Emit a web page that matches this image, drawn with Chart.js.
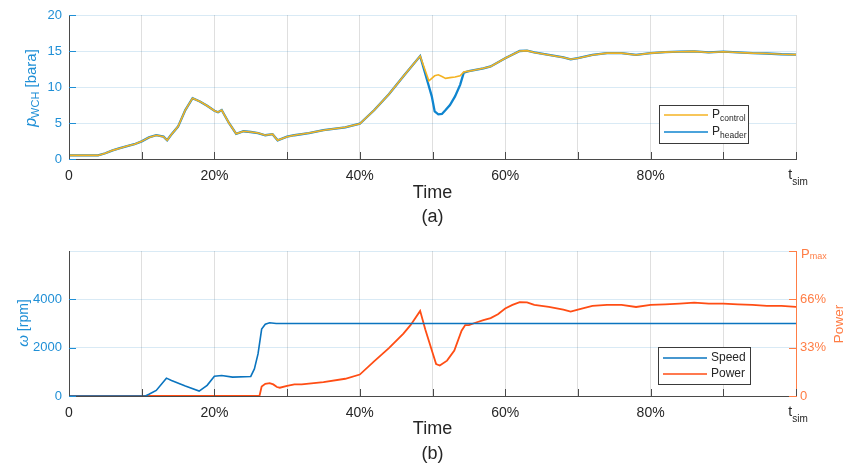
<!DOCTYPE html>
<html>
<head>
<meta charset="utf-8">
<script src="https://cdn.jsdelivr.net/npm/chart.js@4"></script>
<style>
html, body { margin: 0; padding: 0; background: #fff; }
#wrap { position: relative; width: 846px; height: 470px; }
canvas { position: absolute; left: 0; }
#topChart { top: 0; }
#bottomChart { top: 235px; }
</style>
</head>
<body>
<div id="wrap">
  <canvas id="topChart" width="846" height="235"></canvas>
  <canvas id="bottomChart" width="846" height="235"></canvas>
</div>
<script>
// --- Data (time in % of t_sim) ---
const timeTop = [0, 2, 4, 5, 6, 7, 8, 9, 10, 11, 12, 13, 13.5, 14, 15, 16, 17, 18, 19, 20, 20.5, 21, 22, 23, 24, 25, 26, 27, 28, 28.7, 30, 31, 33, 35, 38, 40, 42, 44, 46, 48.3, 49.5, 49.9, 50.3, 50.8, 51.3, 51.8, 52.4, 53.1, 53.8, 54.3, 55, 57, 58, 60, 62, 63, 64, 66, 68, 69, 70, 72, 74, 76, 78, 80, 82, 84, 86, 88, 90, 92, 94, 96, 98, 100];
const pHeader = [0.5, 0.5, 0.5, 0.8, 1.2, 1.5, 1.8, 2.05, 2.45, 3.0, 3.3, 3.1, 2.6, 3.3, 4.5, 6.8, 8.45, 8.0, 7.4, 6.7, 6.5, 6.8, 5.0, 3.5, 3.85, 3.75, 3.6, 3.3, 3.45, 2.6, 3.1, 3.3, 3.6, 4.0, 4.4, 4.9, 6.8, 9.0, 11.5, 14.3, 10.1, 8.7, 6.6, 6.2, 6.25, 6.8, 7.5, 8.7, 10.3, 12.0, 12.2, 12.6, 12.85, 14.0, 15.0, 15.05, 14.8, 14.45, 14.1, 13.85, 14.0, 14.45, 14.7, 14.7, 14.45, 14.7, 14.85, 14.9, 14.95, 14.8, 14.9, 14.8, 14.7, 14.65, 14.55, 14.5];
const pControl = [0.5, 0.5, 0.5, 0.8, 1.2, 1.5, 1.8, 2.05, 2.45, 3.0, 3.3, 3.1, 2.6, 3.3, 4.5, 6.8, 8.45, 8.0, 7.4, 6.7, 6.5, 6.8, 5.0, 3.5, 3.85, 3.75, 3.6, 3.3, 3.45, 2.6, 3.1, 3.3, 3.6, 4.0, 4.4, 4.9, 6.8, 9.0, 11.5, 14.3, 10.85, 11.2, 11.55, 11.7, 11.45, 11.2, 11.3, 11.4, 11.55, 12.1, 12.2, 12.6, 12.85, 14.0, 15.0, 15.05, 14.8, 14.45, 14.1, 13.85, 14.0, 14.45, 14.7, 14.7, 14.45, 14.7, 14.85, 14.9, 14.95, 14.8, 14.9, 14.8, 14.7, 14.65, 14.55, 14.5];

const timeSpeed = [0, 10.5, 11, 12, 13.4, 14.1, 16, 17.9, 19, 20, 21, 22.5, 25, 25.5, 26, 26.5, 27, 27.6, 28.5, 100];
const speedRpm = [0, 0, 70, 230, 740, 640, 410, 205, 440, 820, 850, 780, 810, 1120, 1740, 2770, 2970, 3030, 3000, 3000];

const timePower = [0, 26.2, 26.5, 27, 27.6, 28.1, 28.6, 29, 30, 31, 32, 35, 38, 40, 42, 44, 46, 47, 48.3, 49, 50, 50.5, 51, 52, 53, 54, 54.5, 55, 56, 57, 58, 59, 60, 61, 62, 63, 64, 66, 68, 69, 70, 72, 74, 76, 78, 80, 82, 84, 86, 88, 90, 92, 94, 96, 98, 100];
const powerPct = [0, 0, 6.6, 8.4, 8.9, 8.0, 6.2, 5.7, 7.0, 8.0, 8.0, 9.6, 11.9, 14.8, 24, 33, 43, 49, 58.7, 46, 30, 22, 21, 24.4, 31.3, 45, 48.9, 48.9, 50.7, 52.3, 53.7, 56.4, 60.3, 62.8, 64.8, 64.6, 62.8, 61.4, 59.6, 58.2, 59.6, 62.1, 62.8, 62.8, 61.4, 62.8, 63.2, 63.7, 64.4, 63.7, 63.7, 63.2, 62.8, 62.1, 62.1, 61.4];

const xTickValues = [0, 10, 20, 30, 40, 50, 60, 70, 80, 90, 100];
const xTickLabels = ['0', '', '20%', '', '40%', '', '60%', '', '80%', '', ''];
const powerTickValues = [0, 100 / 3, 200 / 3, 100];
const powerTickLabels = ['0', '33%', '66%', ''];

// --- Styling ---
const FONT = "'Liberation Sans', Arial, Helvetica, sans-serif";
const C_HEADER = '#0f85cf';
const C_CONTROL = '#f4b323';
const C_SPEED = '#0a74bf';
const C_POWER = '#ff4d14';
const BLUE_AXIS = '#1f8fd6';
const ORANGE_AXIS = '#ff7d45';
const GREY = '#4a4a4a';
const TEXT = '#262626';
const GRID_X = 'rgba(38,38,38,0.15)';
const GRID_Y = 'rgba(0,114,189,0.15)';

function pts(xs, ys) {
  return xs.map((x, i) => ({ x: x, y: ys[i] }));
}

// draws text made of several runs (for subscripts), centred unless align = 'left'
function drawRich(ctx, x, y, parts, rot, color, align) {
  ctx.save();
  ctx.translate(x, y);
  if (rot) ctx.rotate(rot);
  ctx.fillStyle = color;
  ctx.textBaseline = 'middle';
  ctx.textAlign = 'left';
  let total = 0;
  parts.forEach(p => { ctx.font = p.font; p.w = ctx.measureText(p.text).width; total += p.w; });
  let cx = align === 'left' ? 0 : -total / 2;
  parts.forEach(p => {
    ctx.font = p.font;
    ctx.fillText(p.text, cx, p.dy || 0);
    cx += p.w;
  });
  ctx.restore();
}

function drawLegend(ctx, box, items) {
  ctx.save();
  ctx.fillStyle = '#fff';
  ctx.fillRect(box.x, box.y, box.w, box.h);
  ctx.strokeStyle = '#3a3a3a';
  ctx.lineWidth = 1;
  ctx.strokeRect(box.x + 0.5, box.y + 0.5, box.w, box.h);
  items.forEach(it => {
    ctx.strokeStyle = it.color;
    ctx.lineWidth = 1.6;
    ctx.beginPath();
    ctx.moveTo(box.x + 5, it.y);
    ctx.lineTo(box.x + 49, it.y);
    ctx.stroke();
    drawRich(ctx, box.x + 53, it.y, it.parts, 0, TEXT, 'left');
  });
  ctx.restore();
}

// MATLAB-style tick marks pointing into the plot
const innerTicks = {
  id: 'innerTicks',
  afterDraw(chart, args, opts) {
    const ctx = chart.ctx, a = chart.chartArea;
    ctx.save();
    ctx.lineWidth = 1;
    (opts.axes || []).forEach(ax => {
      const sc = chart.scales[ax.id];
      ctx.strokeStyle = ax.color;
      ax.values.forEach(v => {
        const p = Math.round(sc.getPixelForValue(v)) + 0.5;
        ctx.beginPath();
        if (ax.side === 'bottom') { ctx.moveTo(p, a.bottom); ctx.lineTo(p, a.bottom - 7); }
        else if (ax.side === 'left') { ctx.moveTo(a.left, p); ctx.lineTo(a.left + 7, p); }
        else { ctx.moveTo(a.right, p); ctx.lineTo(a.right - 7, p); }
        ctx.stroke();
      });
    });
    ctx.restore();
  }
};

const topText = {
  id: 'topText',
  afterDraw(chart) {
    const ctx = chart.ctx, a = chart.chartArea;
    const mid = (a.left + a.right) / 2;
    drawRich(ctx, 32, 88, [
      { text: 'p', font: 'italic 16px ' + FONT },
      { text: 'WCH', font: '11px ' + FONT, dy: 4 },
      { text: ' [bara]', font: '15px ' + FONT }
    ], -Math.PI / 2, BLUE_AXIS);
    drawRich(ctx, mid, 193, [{ text: 'Time', font: '18px ' + FONT }], 0, TEXT);
    drawRich(ctx, mid, 217, [{ text: '(a)', font: '18px ' + FONT }], 0, TEXT);
    drawRich(ctx, a.right + 2, 175, [
      { text: 't', font: '14px ' + FONT },
      { text: 'sim', font: '10px ' + FONT, dy: 7 }
    ], 0, TEXT);
    drawLegend(ctx, { x: 659, y: 105, w: 89, h: 38 }, [
      { color: C_CONTROL, y: 115, parts: [{ text: 'P', font: '12px ' + FONT }, { text: 'control', font: '8.5px ' + FONT, dy: 4 }] },
      { color: C_HEADER, y: 132, parts: [{ text: 'P', font: '12px ' + FONT }, { text: 'header', font: '8.5px ' + FONT, dy: 4 }] }
    ]);
  }
};

const bottomText = {
  id: 'bottomText',
  afterDraw(chart) {
    const ctx = chart.ctx, a = chart.chartArea;
    const mid = (a.left + a.right) / 2;
    drawRich(ctx, 24, 88, [
      { text: '\u03c9', font: 'italic 15px ' + FONT },
      { text: ' [rpm]', font: '14px ' + FONT }
    ], -Math.PI / 2, BLUE_AXIS);
    drawRich(ctx, 839, 89, [{ text: 'Power', font: '13.5px ' + FONT }], -Math.PI / 2, ORANGE_AXIS);
    drawRich(ctx, a.right + 5, a.top + 3, [
      { text: 'P', font: '13px ' + FONT },
      { text: 'max', font: '9px ' + FONT, dy: 3 }
    ], 0, ORANGE_AXIS, 'left');
    drawRich(ctx, mid, 194, [{ text: 'Time', font: '18px ' + FONT }], 0, TEXT);
    drawRich(ctx, mid, 219, [{ text: '(b)', font: '18px ' + FONT }], 0, TEXT);
    drawRich(ctx, a.right + 2, 177, [
      { text: 't', font: '14px ' + FONT },
      { text: 'sim', font: '10px ' + FONT, dy: 7 }
    ], 0, TEXT);
    drawLegend(ctx, { x: 658, y: 112, w: 92, h: 37 }, [
      { color: C_SPEED, y: 123, parts: [{ text: 'Speed', font: '12px ' + FONT }] },
      { color: C_POWER, y: 139, parts: [{ text: 'Power', font: '12px ' + FONT }] }
    ]);
  }
};

function xScale(height) {
  return {
    type: 'linear', min: 0, max: 100,
    afterFit: s => { s.height = height; },
    afterBuildTicks: ax => { ax.ticks = xTickValues.map(v => ({ value: v })); },
    ticks: {
      autoSkip: false, maxRotation: 0, padding: 9, color: TEXT,
      font: { family: FONT, size: 14 },
      callback: (v, i) => xTickLabels[i]
    },
    grid: { color: GRID_X, drawTicks: false },
    border: { color: GREY }
  };
}

Chart.defaults.font.family = FONT;

new Chart(document.getElementById('topChart'), {
  type: 'line',
  data: {
    datasets: [
      { label: 'Pcontrol', data: pts(timeTop, pControl), borderColor: C_CONTROL, borderWidth: 1.6, pointRadius: 0 },
      { label: 'Pheader', data: pts(timeTop, pHeader), borderColor: C_HEADER, borderWidth: 2.3, pointRadius: 0 }
    ]
  },
  options: {
    responsive: false,
    animation: false,
    layout: { padding: { left: 0, right: 50, top: 15, bottom: 0 } },
    plugins: {
      legend: { display: false },
      tooltip: { enabled: false },
      innerTicks: { axes: [
        { id: 'x', side: 'bottom', color: GREY, values: xTickValues },
        { id: 'y', side: 'left', color: BLUE_AXIS, values: [0, 5, 10, 15, 20] }
      ] }
    },
    scales: {
      x: xScale(76),
      y: {
        min: 0, max: 20,
        afterFit: s => { s.width = 69; },
        ticks: { stepSize: 5, padding: 7, color: BLUE_AXIS, font: { family: FONT, size: 13 } },
        grid: { color: GRID_Y, drawTicks: false },
        border: { color: GREY }
      }
    }
  },
  plugins: [innerTicks, topText]
});

new Chart(document.getElementById('bottomChart'), {
  type: 'line',
  data: {
    datasets: [
      { label: 'Speed', data: pts(timeSpeed, speedRpm), borderColor: C_SPEED, borderWidth: 1.6, pointRadius: 0, yAxisID: 'y' },
      { label: 'Power', data: pts(timePower, powerPct), borderColor: C_POWER, borderWidth: 1.8, pointRadius: 0, yAxisID: 'y2' }
    ]
  },
  options: {
    responsive: false,
    animation: false,
    layout: { padding: { left: 0, right: 0, top: 16, bottom: 0 } },
    plugins: {
      legend: { display: false },
      tooltip: { enabled: false },
      innerTicks: { axes: [
        { id: 'x', side: 'bottom', color: GREY, values: xTickValues },
        { id: 'y', side: 'left', color: BLUE_AXIS, values: [0, 2000, 4000] },
        { id: 'y2', side: 'right', color: ORANGE_AXIS, values: powerTickValues }
      ] }
    },
    scales: {
      x: xScale(74),
      y: {
        position: 'left', min: 0, max: 6000,
        afterFit: s => { s.width = 69; },
        ticks: {
          stepSize: 2000, padding: 7, color: BLUE_AXIS, font: { family: FONT, size: 13 },
          callback: v => (v < 6000 ? String(v) : '')
        },
        grid: { color: GRID_Y, drawTicks: false },
        border: { color: GREY }
      },
      y2: {
        position: 'right', min: 0, max: 100,
        afterFit: s => { s.width = 50; },
        afterBuildTicks: ax => { ax.ticks = powerTickValues.map(v => ({ value: v })); },
        ticks: {
          padding: 4, color: ORANGE_AXIS, font: { family: FONT, size: 13 },
          callback: (v, i) => powerTickLabels[i]
        },
        grid: { drawOnChartArea: false, drawTicks: false },
        border: { color: ORANGE_AXIS }
      }
    }
  },
  plugins: [innerTicks, bottomText]
});
</script>
</body>
</html>
